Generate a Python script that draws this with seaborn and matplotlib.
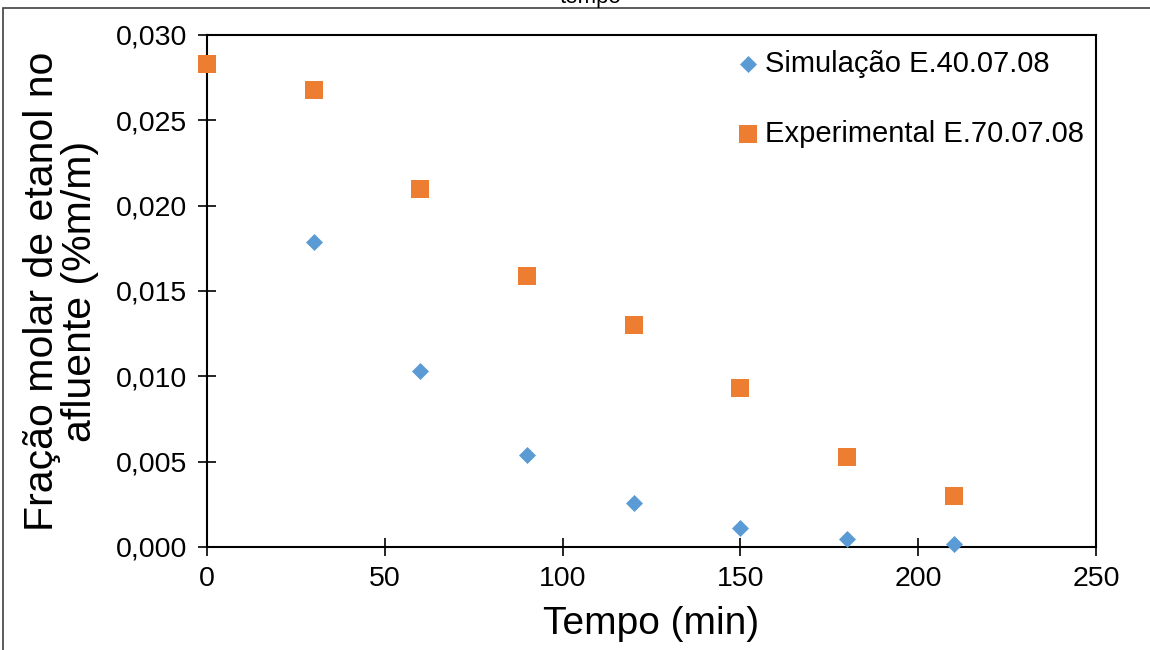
import matplotlib
matplotlib.use("Agg")
import matplotlib.pyplot as plt
import seaborn as sns
import pandas as pd
from matplotlib.patches import Rectangle
from matplotlib.ticker import FuncFormatter

sns.set_theme(style="white")
plt.rcParams['font.family'] = ['Liberation Sans', 'DejaVu Sans']
plt.rcParams['text.color'] = 'black'

tempo_sim = [30, 60, 90, 120, 150, 180, 210]
fracao_sim = [0.0179, 0.0103, 0.0054, 0.0026, 0.0011, 0.00045, 0.00015]
tempo_exp = [0, 30, 60, 90, 120, 150, 180, 210]
fracao_exp = [0.0283, 0.0268, 0.0210, 0.0159, 0.0130, 0.0093, 0.0053, 0.0030]
serie_sim = "Simulação E.40.07.08"
serie_exp = "Experimental E.70.07.08"
x_ticks = [0, 50, 100, 150, 200, 250]
y_ticks = [0.000, 0.005, 0.010, 0.015, 0.020, 0.025, 0.030]

df = pd.concat([
    pd.DataFrame({"Tempo": tempo_sim, "Fracao": fracao_sim, "Serie": serie_sim}),
    pd.DataFrame({"Tempo": tempo_exp, "Fracao": fracao_exp, "Serie": serie_exp}),
], ignore_index=True)

fig = plt.figure(figsize=(11.5, 6.5), dpi=100)
ax = fig.add_axes([207/1150, 1-547/650, (1096-207)/1150, (547-35)/650])

palette = {serie_sim: "#5B9BD5", serie_exp: "#ED7D31"}
markers = {serie_sim: "D", serie_exp: "s"}
sizes = {serie_sim: 75, serie_exp: 150}
for serie in [serie_sim, serie_exp]:
    sns.scatterplot(data=df[df["Serie"] == serie], x="Tempo", y="Fracao",
                    color=palette[serie], marker=markers[serie], s=sizes[serie],
                    linewidth=0, ax=ax, label=serie, clip_on=False, zorder=3)

ax.set_xlim(0, 250)
ax.set_ylim(0, 0.030)
ax.set_xticks(x_ticks)
ax.set_yticks(y_ticks)
ax.xaxis.set_major_formatter(FuncFormatter(lambda v, p: f"{v:.0f}"))
ax.yaxis.set_major_formatter(FuncFormatter(lambda v, p: f"{v:.3f}".replace(".", ",")))
ax.tick_params(axis="both", labelsize=20.5, colors="black", direction="inout",
               length=13, width=1.2, left=True, bottom=True)
ax.tick_params(axis="x", pad=7)
ax.tick_params(axis="y", pad=8)
for sp in ax.spines.values():
    sp.set_color("black")
    sp.set_linewidth(1.5)
    sp.set_visible(True)

ax.set_xlabel("Tempo (min)", fontsize=28, color="black", labelpad=10)
ax.set_ylabel("Fração molar de etanol no\nafluente (%m/m)", fontsize=29.5,
              color="black", labelpad=12, linespacing=1.0)

leg = ax.legend(loc="upper right", frameon=False, fontsize=21, labelspacing=1.45,
                handletextpad=0.0, handlelength=1.2, borderaxespad=0.0,
                bbox_to_anchor=(1.0, 0.994))
for t in leg.get_texts():
    t.set_color("black")

fig.text(590/1150, 1 - 3/650, "tempo", fontsize=16, ha="center", va="baseline")
fig.patches.append(Rectangle((3/1150, -0.1), 1.2, 1 - 8/650 + 0.1,
                             transform=fig.transFigure, fill=False,
                             edgecolor="#404040", linewidth=1.2))

fig.savefig("out.png", dpi=100)
